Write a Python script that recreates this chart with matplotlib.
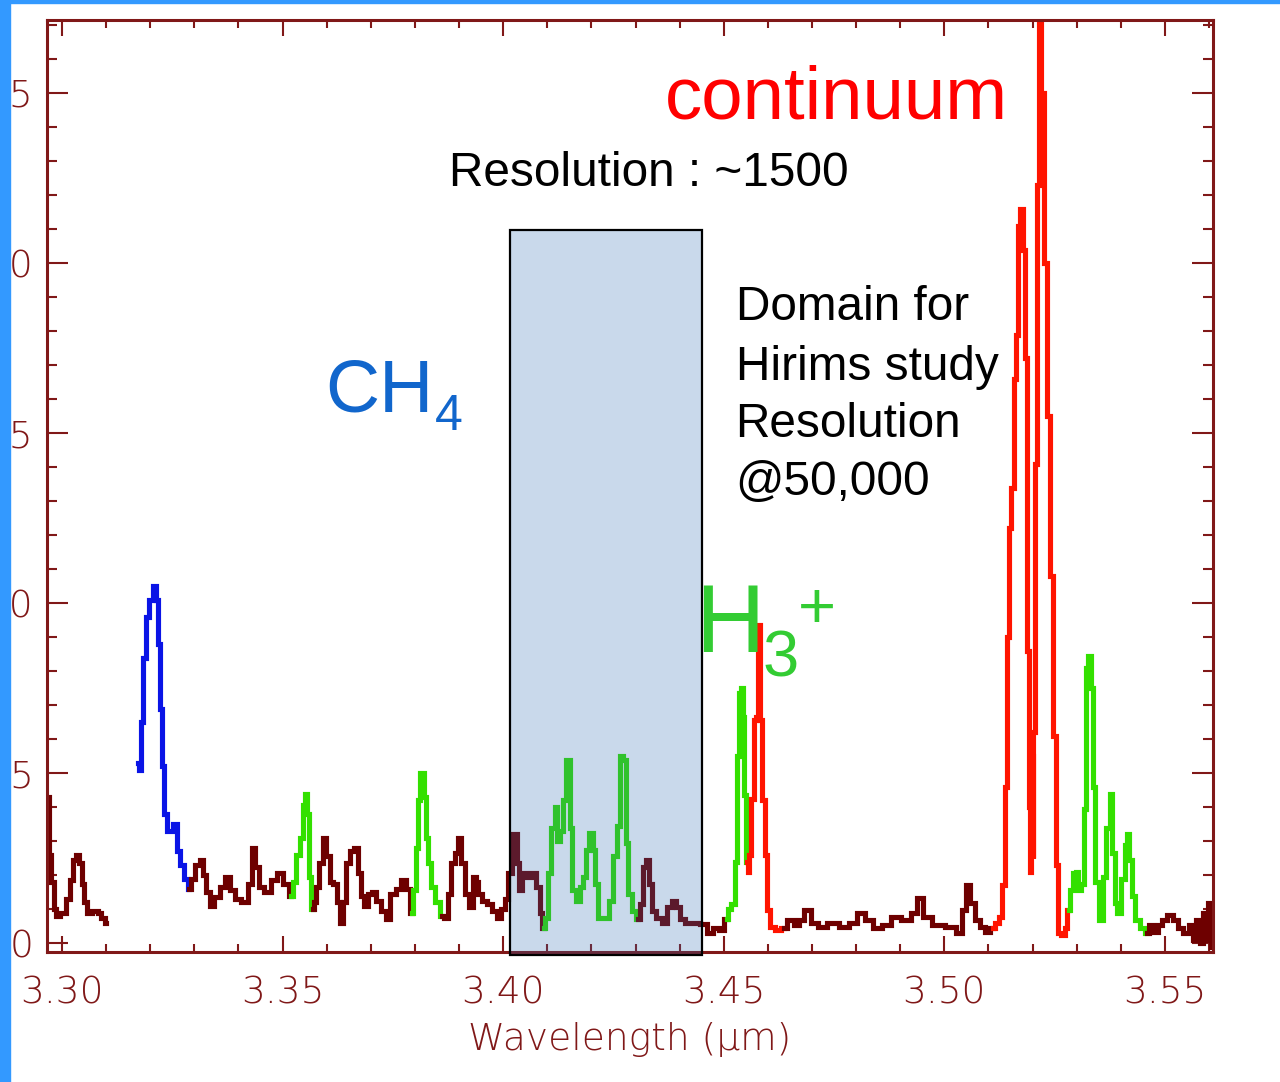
import numpy as np
import matplotlib.pyplot as plt
import matplotlib as mpl
from matplotlib.patches import Rectangle

# spectrum, wavelength in microns, intensity in plot units
# split into pieces so each can be coloured by what it traces

bg1_wl = [3.2966, 3.2973, 3.2978, 3.2984, 3.2991, 3.3002, 3.3015, 3.3022, 3.3028,
          3.3035, 3.3042, 3.3048, 3.3053, 3.3061, 3.3075, 3.3086, 3.3093, 3.3100]
bg1_fx = [4.3, 2.6, 1.8, 1.0, 0.8, 0.9, 1.3, 1.85, 2.45, 2.6, 2.35, 1.75, 1.2, 0.9,
          0.95, 0.88, 0.75, 0.6]

ch4_wl = [3.3172, 3.3177, 3.3181, 3.3186, 3.3193, 3.3202, 3.3209, 3.3215, 3.3220,
          3.3224, 3.3229, 3.3233, 3.3243, 3.3249, 3.3256, 3.3265, 3.3272, 3.3281, 3.3288]
ch4_fx = [5.3, 5.1, 6.5, 8.4, 9.6, 10.1, 10.5, 10.1, 8.8, 6.9, 5.2, 3.8, 3.3, 3.3,
          3.5, 2.7, 2.3, 1.9, 1.6]

bg2_wl = [3.3288, 3.3295, 3.3308, 3.3317, 3.3324, 3.3331, 3.3340, 3.3351, 3.3365,
          3.3376, 3.3385, 3.3399, 3.3413, 3.3428, 3.3435, 3.3442, 3.3451, 3.3465,
          3.3481, 3.3494, 3.3508, 3.3519]
bg2_fx = [1.6, 1.9, 2.3, 2.45, 2.0, 1.5, 1.1, 1.35, 1.65, 1.95, 1.55, 1.3, 1.2, 1.75,
          2.8, 2.25, 1.65, 1.5, 1.85, 2.05, 1.75, 1.4]

h3a_wl = [3.3519, 3.3528, 3.3535, 3.3544, 3.3548, 3.3553, 3.3558, 3.3562, 3.3569]
h3a_fx = [1.4, 1.8, 2.6, 3.1, 4.05, 4.4, 3.8, 1.95, 1.0]

bg3_wl = [3.3569, 3.3573, 3.3580, 3.3587, 3.3596, 3.3603, 3.3610, 3.3619, 3.3626,
          3.3635, 3.3641, 3.3648, 3.3657, 3.3666, 3.3675, 3.3682, 3.3689, 3.3698,
          3.3707, 3.3718, 3.3730, 3.3739, 3.3750, 3.3762, 3.3775, 3.3784, 3.3793]
bg3_fx = [1.0, 1.2, 1.65, 2.35, 3.1, 2.55, 1.8, 1.75, 1.2, 0.6, 1.2, 2.35, 2.7, 2.8,
          2.05, 1.4, 1.1, 1.45, 1.5, 1.25, 0.95, 0.7, 1.45, 1.6, 1.85, 1.6, 0.9]

h3b_wl = [3.3793, 3.3800, 3.3803, 3.3809, 3.3816, 3.3823, 3.3827, 3.3834, 3.3841,
          3.3852, 3.3861]
h3b_fx = [0.9, 1.55, 2.8, 4.2, 5.0, 4.3, 3.1, 2.35, 1.65, 1.2, 0.8]

bg4_wl = [3.3861, 3.3873, 3.3879, 3.3886, 3.3895, 3.3902, 3.3909, 3.3918, 3.3929,
          3.3934, 3.3941, 3.3947, 3.3956, 3.3970, 3.3981, 3.3990, 3.3999, 3.4009,
          3.4015, 3.4027, 3.4034, 3.4038, 3.4047, 3.4058, 3.4070, 3.4079, 3.4086, 3.4092]
bg4_fx = [0.8, 0.75, 1.45, 2.35, 2.65, 3.1, 2.35, 1.45, 1.05, 1.95, 1.8, 1.45, 1.25,
          1.15, 0.95, 0.75, 1.0, 1.3, 2.05, 3.2, 2.35, 1.55, 2.05, 1.95, 2.05, 1.65,
          0.9, 0.45]

h3c_wl = [3.4092, 3.4099, 3.4106, 3.4113, 3.4120, 3.4126, 3.4133, 3.4140, 3.4147,
          3.4154, 3.4160, 3.4170, 3.4179, 3.4185, 3.4192, 3.4199, 3.4206, 3.4210,
          3.4219, 3.4233, 3.4247, 3.4253, 3.4262, 3.4269, 3.4274, 3.4281, 3.4287,
          3.4296, 3.4306]
h3c_fx = [0.45, 0.75, 2.05, 3.4, 4.0, 3.0, 3.3, 4.2, 5.4, 3.4, 1.55, 1.25, 1.65, 1.95,
          2.75, 3.25, 2.75, 1.75, 0.75, 0.75, 1.25, 2.55, 3.45, 5.5, 5.4, 2.95, 1.45,
          0.95, 0.7]

bg5_wl = [3.4306, 3.4315, 3.4321, 3.4326, 3.4333, 3.4340, 3.4351, 3.4367, 3.4378,
          3.4387, 3.4396, 3.4405, 3.4421, 3.4439, 3.4455, 3.4469, 3.4482, 3.4496, 3.4507]
bg5_fx = [0.7, 1.15, 2.25, 2.45, 1.75, 0.95, 0.75, 0.6, 1.05, 1.25, 1.05, 0.7, 0.6,
          0.6, 0.55, 0.3, 0.45, 0.4, 0.7]

h3d_wl = [3.4507, 3.4512, 3.4521, 3.4528, 3.4531, 3.4537, 3.4541, 3.4545, 3.4548, 3.4553]
h3d_fx = [0.7, 1.0, 1.15, 2.4, 5.5, 7.35, 7.5, 6.65, 4.35, 2.4]

cont1_wl = [3.4553, 3.4555, 3.4559, 3.4566, 3.4571, 3.4575, 3.4579, 3.4584, 3.4589,
            3.4596, 3.4602, 3.4609, 3.4625, 3.4636]
cont1_fx = [2.4, 2.1, 2.6, 4.25, 6.55, 6.65, 9.35, 6.55, 4.2, 2.6, 0.97, 0.47, 0.38, 0.44]

bg6_wl = [3.4636, 3.4652, 3.4666, 3.4675, 3.4691, 3.4704, 3.4723, 3.4747, 3.4775,
          3.4793, 3.4813, 3.4829, 3.4849, 3.4870, 3.4888, 3.4915, 3.4933, 3.4945,
          3.4958, 3.4986, 3.5017, 3.5035, 3.5044, 3.5053, 3.5063, 3.5074, 3.5087,
          3.5099, 3.5110]
bg6_fx = [0.44, 0.68, 0.53, 0.68, 0.97, 0.59, 0.47, 0.59, 0.47, 0.59, 0.88, 0.68, 0.44,
          0.53, 0.76, 0.68, 0.88, 1.32, 0.76, 0.53, 0.47, 0.29, 0.97, 1.7, 1.18, 0.68,
          0.47, 0.32, 0.44]

cont2_wl = [3.5110, 3.5121, 3.5128, 3.5135, 3.5140, 3.5144, 3.5149, 3.5155, 3.5160,
            3.5165, 3.5169, 3.5176, 3.5180, 3.5185, 3.5189, 3.5194, 3.5196, 3.5199,
            3.5201, 3.5203, 3.5208, 3.5212, 3.5217, 3.5223, 3.5230, 3.5237, 3.5242,
            3.5251, 3.5255, 3.5260, 3.5269, 3.5276, 3.5282]
cont2_fx = [0.44, 0.6, 0.76, 1.7, 4.6, 9.0, 12.2, 13.4, 16.6, 17.9, 21.1, 21.6, 20.4,
            17.2, 8.6, 4.0, 2.1, 5.5, 2.5, 6.2, 14.1, 22.3, 27.3, 25.0, 20.0, 15.5,
            10.8, 6.1, 2.3, 0.3, 0.24, 0.44, 0.97]

h3e_wl = [3.5282, 3.5289, 3.5296, 3.5301, 3.5307, 3.5312, 3.5319, 3.5323, 3.5328,
          3.5335, 3.5339, 3.5344, 3.5355, 3.5364, 3.5371, 3.5378, 3.5384, 3.5388,
          3.5396, 3.5405, 3.5412, 3.5416, 3.5423, 3.5427, 3.5436, 3.5450, 3.5459]
h3e_fx = [0.97, 1.55, 2.05, 2.1, 1.55, 1.75, 3.95, 8.1, 8.45, 7.5, 4.6, 1.8, 0.68,
          1.95, 3.4, 4.4, 2.65, 1.18, 0.9, 1.9, 2.9, 3.2, 2.45, 1.4, 0.68, 0.44, 0.29]

bg7_wl = [3.5459, 3.5468, 3.5480, 3.5489, 3.5498, 3.5511, 3.5525, 3.5536, 3.5548,
          3.5559, 3.5568, 3.5575, 3.5584, 3.5588, 3.5595, 3.5602, 3.5606]
bg7_fx = [0.29, 0.53, 0.32, 0.53, 0.68, 0.82, 0.68, 0.44, 0.29, 0.53, 0.09, 0.68, 0.0,
          0.88, 0.09, 1.18, -0.1]

# Hirims window
win_lo, win_hi = 3.4015, 3.4451
win_top, win_bot = 20.97, -0.35

x_major = [3.30, 3.35, 3.40, 3.45, 3.50, 3.55]
y_major = [0, 5, 10, 15, 20, 25]

c_axis = '#801818'
c_bg = '#6e0000'
c_ch4 = '#0a14e6'
c_h3 = '#33e000'
c_cont = '#ff1400'

fig = plt.figure(figsize=(12.8, 10.82), dpi=100)
fig.patch.set_facecolor('white')
ax = fig.add_axes([47/1280, 130/1082, 1166/1280, 932/1082])

pieces = [(bg1_wl, bg1_fx, c_bg), (ch4_wl, ch4_fx, c_ch4), (bg2_wl, bg2_fx, c_bg),
          (h3a_wl, h3a_fx, c_h3), (bg3_wl, bg3_fx, c_bg), (h3b_wl, h3b_fx, c_h3),
          (bg4_wl, bg4_fx, c_bg), (h3c_wl, h3c_fx, c_h3), (bg5_wl, bg5_fx, c_bg),
          (h3d_wl, h3d_fx, c_h3), (cont1_wl, cont1_fx, c_cont), (bg6_wl, bg6_fx, c_bg),
          (cont2_wl, cont2_fx, c_cont), (h3e_wl, h3e_fx, c_h3), (bg7_wl, bg7_fx, c_bg)]
for wl, fx, c in pieces:
    ax.plot(wl, fx, drawstyle='steps-mid', color=c, lw=3.7, solid_joinstyle='miter')

ax.add_patch(Rectangle((win_lo, win_bot), win_hi - win_lo, win_top - win_bot,
                       facecolor=(0.16, 0.41, 0.69, 0.25), edgecolor='black', lw=1.6,
                       clip_on=False, zorder=5))

ax.set_xlim(3.2966, 3.5609)
ax.set_ylim(-0.26, 27.15)
ax.set_xticks(x_major)
ax.set_xticklabels([f'{v:.2f}' for v in x_major])
ax.xaxis.set_minor_locator(mpl.ticker.MultipleLocator(0.01))
ax.set_yticks(y_major)
ax.yaxis.set_minor_locator(mpl.ticker.MultipleLocator(1))

for s in ax.spines.values():
    s.set_color(c_axis)
    s.set_linewidth(2.2)
ax.tick_params(axis='both', which='both', direction='in', color=c_axis, width=1.5,
               top=True, right=True, labelcolor=c_axis, labelsize=27)
ax.tick_params(axis='x', which='major', length=11.5, pad=17)
ax.tick_params(axis='x', which='minor', length=5.8)
ax.tick_params(axis='y', which='major', length=15, pad=10)
ax.tick_params(axis='y', which='minor', length=7.2)
for lab in ax.get_xticklabels() + ax.get_yticklabels():
    lab.set_family('DejaVu Sans')
    lab.set_fontweight(200)

ax.set_xlabel('Wavelength (\u00b5m)', fontsize=27, color=c_axis, family='DejaVu Sans',
              fontweight=200)
ax.xaxis.set_label_coords(0.5, -0.075)

sans = 'Liberation Sans'
ax.text(0.5295, 0.8948, 'continuum', transform=ax.transAxes, fontsize=53.6,
        color='#ff0000', family=sans, va='baseline')
ax.text(0.345, 0.8219, 'Resolution : ~1500', transform=ax.transAxes, fontsize=34.4,
        color='black', family=sans, va='baseline')
for txt, yb in zip(['Domain for', 'Hirims study', 'Resolution', '@50,000'],
                   [0.6781, 0.6137, 0.5526, 0.4903]):
    ax.text(0.5905, yb, txt, transform=ax.transAxes, fontsize=34.4, color='black',
            family=sans, va='baseline')

ax.text(0.239, 0.5794, 'CH', transform=ax.transAxes, fontsize=54, color='#1166cc',
        family=sans, va='baseline')
ax.text(0.333, 0.5601, '4', transform=ax.transAxes, fontsize=36, color='#1166cc',
        family=sans, va='baseline')

ax.text(0.556, 0.3219, 'H', transform=ax.transAxes, fontsize=69, color='#33cc33',
        family=sans, va='baseline', zorder=6)
ax.text(0.614, 0.2951, '3', transform=ax.transAxes, fontsize=47, color='#33cc33',
        family=sans, va='baseline', zorder=6)
ax.text(0.644, 0.3476, '+', transform=ax.transAxes, fontsize=47, color='#33cc33',
        family=sans, va='baseline', zorder=6)

# slide frame strips along the left and top edges
fig.add_artist(Rectangle((0, 0), 10/1280, 1, transform=fig.transFigure,
                         color='#3399ff', zorder=20))
fig.add_artist(Rectangle((0, 1 - 3/1082), 1, 3/1082, transform=fig.transFigure,
                         color='#3399ff', zorder=20))

fig.savefig('out.png', dpi=100, facecolor='white')
